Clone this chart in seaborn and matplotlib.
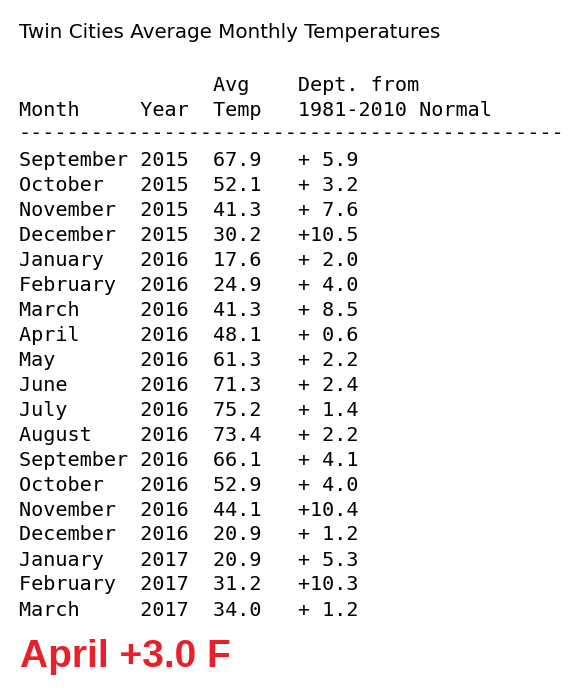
import matplotlib.pyplot as plt
import seaborn as sns

sns.set_style('white')

months = ['September', 'October', 'November', 'December', 'January', 'February', 'March',
          'April', 'May', 'June', 'July', 'August', 'September', 'October', 'November',
          'December', 'January', 'February', 'March']
years = [2015, 2015, 2015, 2015, 2016, 2016, 2016, 2016, 2016, 2016, 2016, 2016, 2016,
         2016, 2016, 2016, 2017, 2017, 2017]
avg_temp = [67.9, 52.1, 41.3, 30.2, 17.6, 24.9, 41.3, 48.1, 61.3, 71.3, 75.2, 73.4, 66.1,
            52.9, 44.1, 20.9, 20.9, 31.2, 34.0]
departure = [5.9, 3.2, 7.6, 10.5, 2.0, 4.0, 8.5, 0.6, 2.2, 2.4, 1.4, 2.2, 4.1, 4.0, 10.4,
             1.2, 5.3, 10.3, 1.2]

W, H = 587, 691
fig = plt.figure(figsize=(W / 100, H / 100), dpi=100, facecolor='white')
ax = fig.add_axes([0, 0, 1, 1])
ax.set_xlim(0, W)
ax.set_ylim(H, 0)
ax.axis('off')

mono = dict(family='DejaVu Sans Mono', fontsize=14.5, color='black', va='center', ha='left')

ax.text(19, 32, 'Twin Cities Average Monthly Temperatures', family='DejaVu Sans',
        fontsize=14.3, color='black', va='center', ha='left')
ax.text(19, 85, ' ' * 16 + 'Avg    Dept. from', **mono)
ax.text(19, 110, 'Month     Year  Temp   1981-2010 Normal', **mono)
ax.text(19, 133, '-' * 45, **mono)

for i, (m, y, t, d) in enumerate(zip(months, years, avg_temp, departure)):
    dept = '+' + f'{d:.1f}'.rjust(4)
    ax.text(19, 160 + 25 * i, f'{m:<10}{y}  {t:.1f}   {dept}', **mono)

ax.text(20, 657, 'April +3.0 F', family='Liberation Sans', fontweight='bold',
        fontsize=28, color='#e8202a', va='center', ha='left')

fig.savefig('out.png', dpi=100)
